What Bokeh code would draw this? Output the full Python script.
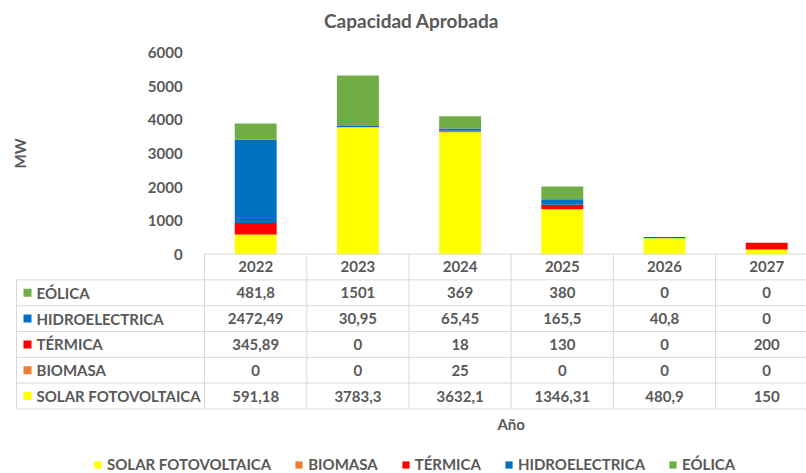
from bokeh.plotting import figure
from bokeh.models import Range1d, FixedTicker, Legend, LegendItem, Label, ColumnDataSource
from bokeh.core.properties import value
from bokeh.embed import file_html
from bokeh.resources import INLINE

# ---- data ----
years = ["2022", "2023", "2024", "2025", "2026", "2027"]
solar = [591.18, 3783.3, 3632.1, 1346.31, 480.9, 150]
biomasa = [0, 0, 25, 0, 0, 0]
termica = [345.89, 0, 18, 130, 0, 200]
hidro = [2472.49, 30.95, 65.45, 165.5, 40.8, 0]
eolica = [481.8, 1501, 369, 380, 0, 0]
series_names = ["SOLAR FOTOVOLTAICA", "BIOMASA", "TÉRMICA", "HIDROELECTRICA", "EÓLICA"]
colors = ["#FFFF00", "#ED7D31", "#FF0000", "#0070C0", "#70AD47"]
y_ticks = [0, 1000, 2000, 3000, 4000, 5000, 6000]
title_text = "Capacidad Aprobada"
y_label = "MW"
x_label = "Año"

# ---- layout constants (pixels) ----
W, H = 806, 473
FONT = "Lato"
FS = "15px"
TXT = "#595959"
GRID = "#D9D9D9"
COL_W = 102.2          # px per category
X0 = 255.2             # px of first category centre
ZERO_Y = 254.0         # px of value 0 (from top)
PX_PER = 202.0 / 6000  # px per MW
ROW_TOP = 253.5        # px of table top
ROW_H = 25.83          # px per table row
TABLE_LEFT_PX = 16.0

xs = list(range(len(years)))
series = [solar, biomasa, termica, hidro, eolica]
keys = ["s%d" % i for i in range(len(series))]
data = {"x": xs}
for k, s in zip(keys, series):
    data[k] = s
src = ColumnDataSource(data)

p = figure(width=W, height=H, output_backend="svg", toolbar_location=None,
           x_range=Range1d(-X0 / COL_W, (W - X0) / COL_W),
           y_range=Range1d(-(H - ZERO_Y) / PX_PER, ZERO_Y / PX_PER),
           min_border_left=0, min_border_right=0, min_border_top=0, min_border_bottom=0)
p.extra_y_ranges = {"tbl": Range1d((H - ROW_TOP) / ROW_H, -ROW_TOP / ROW_H)}
p.xaxis.visible = False
p.xgrid.visible = False
p.ygrid.visible = False
p.outline_line_color = None
p.background_fill_color = "white"
p.border_fill_color = "white"

# bars
renderers = p.vbar_stack(keys, x="x", width=0.41, source=src, color=colors, line_color=None)

# y axis at plot-area left
ya = p.yaxis[0]
ya.fixed_location = -0.5
ya.ticker = FixedTicker(ticks=y_ticks)
ya.bounds = (y_ticks[0], y_ticks[-1])
ya.axis_line_color = None
ya.major_tick_line_color = None
ya.minor_tick_line_color = None
ya.major_label_standoff = 16
ya.major_label_text_font = FONT
ya.major_label_text_font_style = "bold"
ya.major_label_text_font_size = FS
ya.major_label_text_color = TXT
ya.axis_label = y_label
ya.axis_label_standoff = 116
ya.axis_label_text_font = FONT
ya.axis_label_text_font_style = "bold"
ya.axis_label_text_font_size = FS
ya.axis_label_text_color = TXT

# ---- data table ----
n = len(years)
tl = (TABLE_LEFT_PX - X0) / COL_W
nrows = len(series)
hx0, hx1, hy = [], [], []
hx0.append(-0.5); hx1.append(n); hy.append(0)
for r in range(1, nrows + 2):
    hx0.append(tl); hx1.append(n); hy.append(r)
p.segment(x0=hx0, x1=hx1, y0=hy, y1=hy, y_range_name="tbl", line_color=GRID, line_width=1)
vx = [tl] + [k - 0.5 for k in range(n)]
vy0 = [1] + [0] * n
vy1 = [nrows + 1] * (n + 1)
p.segment(x0=vx, x1=vx, y0=vy0, y1=vy1, y_range_name="tbl", line_color=GRID, line_width=1)

p.text(x=xs, y=[0.5] * n, text=years, y_range_name="tbl", text_align="center",
       text_baseline="middle", text_font=value(FONT), text_font_style="bold",
       text_font_size=FS, text_color=TXT)

def fmt(v):
    return ("%g" % v).replace(".", ",")

order = list(range(nrows))[::-1]  # top row = last series
tx, ty, tt = [], [], []
ly, lt, lc = [], [], []
for row, si in enumerate(order, start=1):
    for i in range(n):
        tx.append(xs[i]); ty.append(row + 0.5); tt.append(fmt(series[si][i]))
    ly.append(row + 0.5); lt.append(series_names[si]); lc.append(colors[si])
p.text(x=tx, y=ty, text=tt, y_range_name="tbl", text_align="center",
       text_baseline="middle", text_font=value(FONT), text_font_style="bold",
       text_font_size=FS, text_color=TXT)
mx = tl + 11 / COL_W
p.scatter(x=[mx] * nrows, y=ly, y_range_name="tbl", marker="square", size=8,
          color=lc, line_color=None)
p.text(x=[tl + 20 / COL_W] * nrows, y=ly, text=lt, y_range_name="tbl", text_align="left",
       text_baseline="middle", text_font=value(FONT), text_font_style="bold",
       text_font_size=FS, text_color=TXT)

# x axis title
p.text(x=[(n - 1) / 2], y=[(423 - ROW_TOP) / ROW_H], text=[x_label], y_range_name="tbl",
       text_align="center", text_baseline="middle", text_font=value(FONT),
       text_font_style="bold", text_font_size=FS, text_color=TXT)

# title
p.add_layout(Label(x=411, y=H - 20, x_units="screen", y_units="screen", text=title_text,
                   text_align="center", text_baseline="middle", text_font=FONT,
                   text_font_style="bold", text_font_size="19px", text_color=TXT))

# legend
legend = Legend(items=[LegendItem(label=nm, renderers=[r]) for nm, r in zip(series_names, renderers)],
                orientation="horizontal", location=(93, 0), glyph_width=9, glyph_height=9,
                label_standoff=5, spacing=23, padding=0, margin=0,
                border_line_color=None, background_fill_alpha=0,
                label_text_font=FONT, label_text_font_style="bold",
                label_text_font_size=FS, label_text_color=TXT)
p.add_layout(legend)

open("out.html", "w").write(file_html(p, INLINE))
